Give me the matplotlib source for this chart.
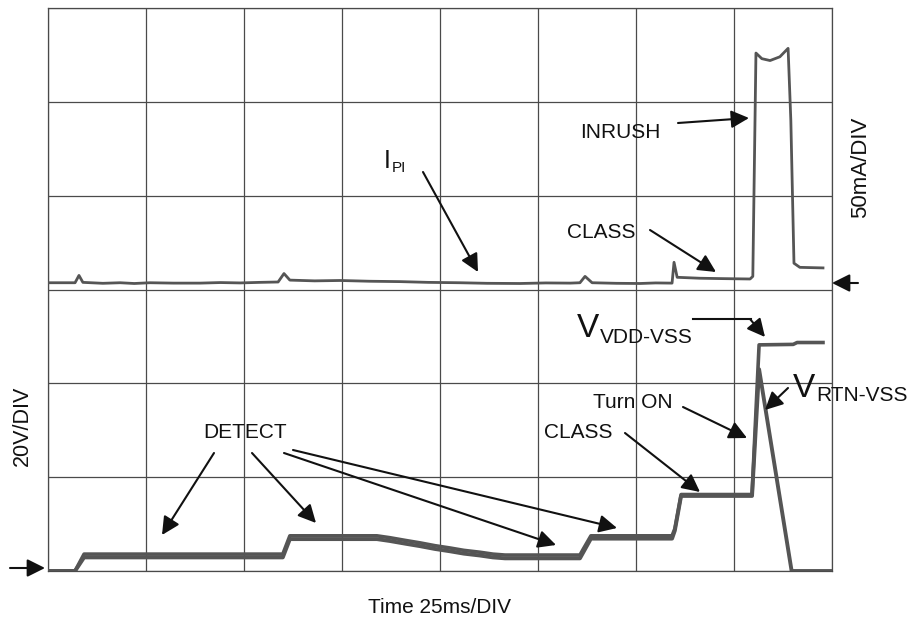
import matplotlib.pyplot as plt

plt.rcParams['font.family'] = ['Liberation Sans', 'DejaVu Sans']

# time axis: 25 ms per division, 8 divisions
# current trace I_PI (mA), 50 mA/div, zero at 3 div
t_i = [0, 6.9, 7.9, 8.9, 14, 18.4, 22, 26, 32, 38.8, 44, 49, 54, 58.7, 60.2, 61.7,
       68, 74.5, 82, 89.8, 97, 105, 112, 120.4, 127, 133.2, 135.7, 137, 138.8,
       145, 151, 155, 159.2, 159.7, 160.5, 166.3, 172, 179.1, 179.8, 180.6,
       182.1, 184.2, 186.7, 188.8, 189.5, 190.3, 191.8, 197.7]
i_pi = [3.6, 3.6, 7.5, 3.8, 3.3, 3.6, 3.2, 3.6, 3.4, 3.4, 3.7, 3.5, 3.8, 4.0, 8.5, 5.0,
        4.6, 4.8, 4.4, 4.2, 3.8, 3.6, 3.3, 3.2, 3.5, 3.4, 3.6, 7.0, 3.6,
        3.3, 3.2, 3.5, 3.4, 14.5, 6.5, 6.0, 5.8, 5.6, 7.0, 126,
        123, 122, 124, 128.5, 90, 14, 11.8, 11.5]

# voltage traces (V), 20 V/div, zero at 0 div
t_v = [0, 6.9, 9.2, 59.9, 61.7, 83.9, 87.2, 91.3, 94.9, 98.7, 102.6, 106.1, 110.2,
       113.5, 116.6, 135.7, 136.5, 138.5, 159.2, 159.9, 161.5, 179.6, 181.4,
       190.1, 191.1, 197.7]
v_vdd = [0, 0, 3.6, 3.6, 7.5, 7.5, 7.1, 6.5, 6.0, 5.4, 4.9, 4.4, 4.0,
         3.6, 3.4, 3.4, 4.6, 7.5, 7.5, 9.0, 16.3, 16.3, 48.2,
         48.3, 48.7, 48.7]

t_rtn = [0, 6.9, 9.2, 59.9, 61.7, 83.9, 87.2, 91.3, 94.9, 98.7, 102.6, 106.1, 110.2,
         113.5, 116.6, 135.7, 136.5, 138.5, 159.2, 159.9, 161.5, 179.6, 181.4,
         189.7, 200]
v_rtn = [0, 0, 2.9, 2.9, 6.8, 6.8, 6.4, 5.8, 5.3, 4.7, 4.2, 3.7, 3.3,
         2.9, 2.7, 2.7, 3.9, 6.9, 6.9, 8.6, 16.0, 16.0, 43.0,
         0, 0]

MA_PER_DIV = 50
V_PER_DIV = 20
I_ZERO_DIV = 3

W, H = 909, 618
fig = plt.figure(figsize=(W / 100, H / 100), dpi=100)
ax = fig.add_axes([48 / W, 1 - 571 / H, 784 / W, 563 / H])

trace = '#555555'
gridc = '#4a4a4a'
ink = '#111111'

ax.plot(t_i, [I_ZERO_DIV + v / MA_PER_DIV for v in i_pi], color=trace, lw=2.0,
        solid_joinstyle='round', zorder=3)
ax.plot(t_rtn, [v / V_PER_DIV for v in v_rtn], color=trace, lw=2.8,
        solid_joinstyle='round', zorder=3)
ax.plot(t_v, [v / V_PER_DIV for v in v_vdd], color=trace, lw=2.6,
        solid_joinstyle='round', zorder=3)

ax.set_xlim(0, 200)
ax.set_ylim(0, 6)
ax.set_xticks(range(0, 201, 25))
ax.set_yticks(range(0, 7))
ax.tick_params(length=0, labelbottom=False, labelleft=False)
ax.grid(True, color=gridc, lw=0.9)
for s in ax.spines.values():
    s.set_color(gridc)
    s.set_linewidth(0.9)


def P(x, y):
    return (x, H - y)


def label(x, y, s, size=15, **kw):
    fig.text(x / W, 1 - y / H, s, fontsize=size, color=ink, **kw)


def arrow(tail, head):
    ax.annotate('', xy=P(*head), xycoords='figure pixels', xytext=P(*tail),
                textcoords='figure pixels', annotation_clip=False,
                arrowprops=dict(arrowstyle='-|>,head_length=0.6,head_width=0.3',
                                color=ink, lw=1.5,
                                mutation_scale=18, shrinkA=0, shrinkB=0))


# upper (current) annotations
label(384, 168, 'I', size=18)
label(392, 172, 'PI', size=11)
arrow((423, 172), (478, 272))
label(580, 138, 'INRUSH')
arrow((678, 123), (749, 118))
label(567, 238, 'CLASS')
arrow((650, 230), (716, 272))
label(861, 167, '50mA/DIV', size=16, ha='center', va='center', rotation=90)
arrow((858, 283), (832, 283))

# lower (voltage) annotations
label(22, 426, '20V/DIV', size=15.5, ha='center', va='center', rotation=90)
arrow((10, 568), (45, 568))
label(203, 438, 'DETECT')
arrow((214, 453), (162, 535))
arrow((252, 453), (316, 523))
arrow((284, 453), (556, 545))
arrow((293, 450), (617, 528))
label(544, 438, 'CLASS')
arrow((625, 433), (700, 492))
label(593, 408, 'Turn ON')
arrow((683, 407), (747, 438))
label(577, 337, 'V', size=24)
label(600, 343, 'VDD-VSS')
ax.plot([693 / W, 751 / W], [1 - 319 / H, 1 - 319 / H], transform=fig.transFigure,
        color=ink, lw=1.5, clip_on=False)
arrow((750, 319), (765, 337))
label(793, 397, 'V', size=24)
label(816, 401, 'RTN-VSS')
arrow((788, 388), (765, 410))

label(440, 613, 'Time 25ms/DIV', ha='center')

fig.savefig('out.png', dpi=100)
